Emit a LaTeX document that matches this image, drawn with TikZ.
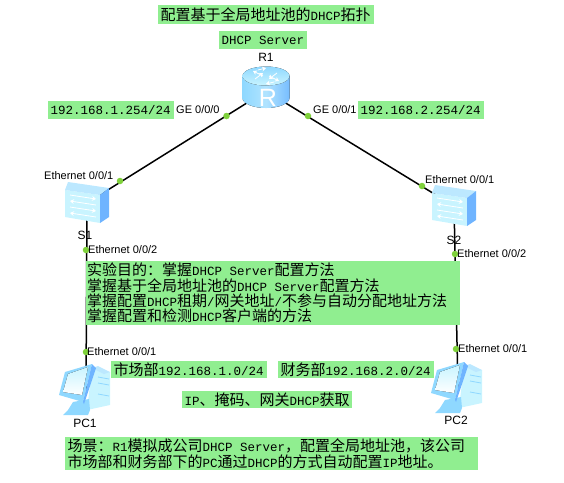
\documentclass[tikz,border=0pt]{standalone}
\usepackage{fontspec}
\usetikzlibrary{arrows.meta}
\setmainfont{Liberation Sans}
\newfontfamily\cnfont{Noto Sans CJK SC}
\newfontfamily\enfont[Scale=0.8333]{Liberation Mono}
\newcommand{\en}[1]{{\enfont\spaceskip=0pt #1}}
\definecolor{notegreen}{HTML}{90EE90}
\definecolor{portgreen}{HTML}{7FD13B}
\definecolor{iconpale}{HTML}{C9F4FF}
\definecolor{iconmid}{HTML}{8FD8FF}
\definecolor{icondeep}{HTML}{6FB4FF}
\tikzset{
    notebox/.style={fill=notegreen,anchor=north west,align=left,inner xsep=2.5pt,inner ysep=0pt,font=\cnfont\fontsize{15}{15.3}\selectfont},
    portlabel/.style={anchor=west,inner sep=0pt,font=\fontsize{11}{12}\selectfont},
    devlabel/.style={inner sep=0pt,font=\fontsize{12}{13}\selectfont},
    device/.style={inner sep=0pt,minimum size=2pt},
    portdot/.style={circle,fill=portgreen,inner sep=0pt,minimum size=6.5pt},
    link/.style={line width=1.5pt,black},
    glyph/.style={white,line width=.8pt,-{Stealth[length=4pt,width=5pt]}},
    pics/routericon/.style={code={
        \fill[left color=iconmid,right color=icondeep!75!iconmid,middle color=iconmid!70!white] (-23.5,-15)--(-23.5,7) arc[start angle=180,end angle=0,x radius=23.5,y radius=10]--(23.5,-15)--cycle;
        \fill[top color=iconmid,bottom color=iconpale] (0,-15) ellipse[x radius=23.5,y radius=9.5];
        \draw[glyph] (-3,-15)--(-13,-20);
        \draw[glyph] (-11,-12)--(-3,-18);
        \draw[glyph] (3,-15)--(13,-10);
        \draw[glyph] (11,-18)--(3,-12);
        \draw[glyph] (-8,-21)--(0,-23);
        \draw[glyph] (8,-9)--(0,-7);
        \node[text=white,inner sep=0pt,font=\fontsize{25}{25}\selectfont] (rletter) at (2,7) {R};
    }},
    pics/switchicon/.style={code={
        \fill[iconpale] (-22,-13)--(13,-8)--(13,20)--(-22,14)--cycle;
        \fill[iconmid!60!white] (-22,-13)--(-19,-21)--(22,-15)--(13,-8)--cycle;
        \fill[icondeep] (13,-8)--(22,-15)--(22,14)--(13,20)--cycle;
        \draw[glyph] (-17,-8)--(9,-4);
        \draw[glyph] (9,2)--(-17,-2);
        \draw[glyph] (-17,4)--(9,8);
        \draw[glyph] (9,14)--(-17,10);
    }},
    pics/pcicon/.style={code={
        \fill[iconpale] (6,-22)--(24,-18)--(24,15)--(1,20)--cycle;
        \fill[iconmid!60!white] (6,-22)--(12,-24)--(24,-18)--(18,-16)--cycle;
        \draw[iconmid,line width=.8pt] (12,-13)--(23,-11) (12,-7)--(23,-5) (12,4)--(23,6);
        \fill[iconmid] (-23,25)--(-18,20)--(-13,12)--(3,9)--(4,20)--(2,25)--cycle;
        \fill[iconmid] (-21,-18)--(6,-26)--(-3,12)--(-27,5)--cycle;
        \fill[icondeep] (6,-26)--(10,-22)--(-2,14)--(-3,12)--cycle;
        \fill[top color=iconpale,bottom color=white] (-18,-16)--(2,-23)--(-4,5)--(-23,2)--cycle;
    }},
}
\begin{document}
\begin{tikzpicture}[x=1pt,y=-1pt]
    \useasboundingbox (0,0) rectangle (564,482);
    \node[device] (R1) at (266,91) {};
    \node[device] (S1) at (87,203) {};
    \node[device] (S2) at (454,206) {};
    \node[device] (PC1) at (86,390) {};
    \node[device] (PC2) at (458,388) {};
    \draw[link] (R1)--(S1);
    \draw[link] (R1)--(S2);
    \draw[link] (S1)--(PC1);
    \draw[link] (S2)--(PC2);
    \node[portdot] (r1left) at (226.5,116) {};
    \node[portdot] (r1right) at (308,116) {};
    \node[portdot] (s1up) at (120,181) {};
    \node[portdot] (s2up) at (422,186) {};
    \node[portdot] (s1down) at (86,250) {};
    \node[portdot] (s2down) at (455,254) {};
    \node[portdot] (pc1up) at (86,352) {};
    \node[portdot] (pc2up) at (456,349) {};
    \pic at (R1) {routericon};
    \pic at (S1) {switchicon};
    \pic at (S2) {switchicon};
    \pic at (PC1) {pcicon};
    \pic at (PC2) {pcicon};
    \node[notebox,text width=211pt,minimum height=19pt] (title) at (158,5) {配置基于全局地址池的\en{DHCP}拓扑};
    \node[notebox,text width=83pt,minimum height=18pt] (server) at (219,31) {\en{DHCP Server}};
    \node[notebox,text width=121pt,minimum height=18pt] (leftip) at (48,101) {\en{192.168.1.254/24}};
    \node[notebox,text width=121pt,minimum height=18pt] (rightip) at (358,101) {\en{192.168.2.254/24}};
    \node[notebox,text width=372pt,minimum height=64pt,inner xsep=1pt] (aim) at (86,261) {实验目的：掌握\en{DHCP Server}配置方法\\掌握基于全局地址池的\en{DHCP Server}配置方法\\掌握配置\en{DHCP}租期\en{/}网关地址\en{/}不参与自动分配地址方法\\掌握配置和检测\en{DHCP}客户端的方法};
    \node[notebox,text width=151pt,minimum height=17pt] (market) at (111,361) {市场部\en{192.168.1.0/24}};
    \node[notebox,text width=151pt,minimum height=17pt] (finance) at (278,361) {财务部\en{192.168.2.0/24}};
    \node[notebox,text width=165pt,minimum height=17pt] (getip) at (182,391) {\en{IP}、掩码、网关\en{DHCP}获取};
    \node[notebox,text width=408pt,minimum height=33pt] (scene) at (65,437) {场景：\en{R1}模拟成公司\en{DHCP Server}，配置全局地址池，该公司\\市场部和财务部下的\en{PC}通过\en{DHCP}的方式自动配置\en{IP}地址。};
    \node[devlabel] (r1name) at (266,57) {R1};
    \node[devlabel] (s1name) at (85,235) {S1};
    \node[devlabel] (s2name) at (454,240) {S2};
    \node[devlabel] (pc1name) at (85,423) {PC1};
    \node[devlabel] (pc2name) at (456,420) {PC2};
    \node[portlabel] (labelgea) at (176,110) {GE 0/0/0};
    \node[portlabel] (labelgeb) at (313,110) {GE 0/0/1};
    \node[portlabel] (labelsa) at (44,176) {Ethernet 0/0/1};
    \node[portlabel] (labelsb) at (425,180) {Ethernet 0/0/1};
    \node[portlabel] (labelsc) at (88,250) {Ethernet 0/0/2};
    \node[portlabel] (labelsd) at (457,254) {Ethernet 0/0/2};
    \node[portlabel] (labelpa) at (87,352) {Ethernet 0/0/1};
    \node[portlabel] (labelpb) at (458,349) {Ethernet 0/0/1};
\end{tikzpicture}
\end{document}
